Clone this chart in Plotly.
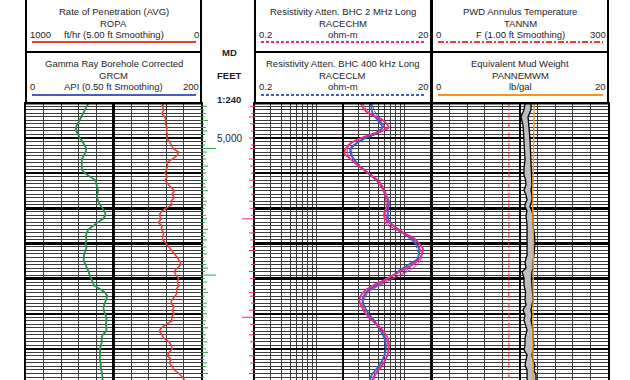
import plotly.graph_objects as go

W, H = 630, 380
FONT = "Liberation Sans, Arial, sans-serif"

# ---------------- data ----------------
DEPTH = list(range(4990, 5070))  # 1 ft samples (MD, feet)

GR_API = [71.6, 69.5, 67.5, 65.5, 63, 60.5, 58.5, 57, 57.5, 59,
          61.4, 64.5, 67, 69, 68, 65.5, 64, 63.6, 63.6, 64,
          67, 74, 79.5, 80.2, 81.8, 82.6, 81.5, 81.2, 82.5, 84.5,
          87.5, 89.8, 91, 88, 82, 76.5, 71.5, 69.3, 68.5, 69,
          68.2, 69.3, 67.6, 66.5, 66, 66, 68, 70, 71.5, 72.7,
          74.5, 75.5, 78, 85, 90.5, 93, 91.5, 90.4, 88.6, 88.8,
          90.5, 91.8, 92, 91.2, 92, 91.5, 87.5, 86.4, 86.6, 85.2,
          84.5, 84.8, 84.2, 84.2, 85.6, 85.2, 86, 86.8, 87.5, 87.5]

ROP_FTHR = [210, 222, 212, 224, 208, 199, 205, 193, 199, 190,
            196, 180, 168, 160, 128, 135, 165, 196, 190, 200,
            206, 192, 205, 190, 170, 153, 165, 153, 172, 165,
            200, 228, 238, 227, 244, 222, 228, 212, 220, 218,
            199, 182, 165, 148, 135, 122, 114, 136, 153, 142,
            128, 136, 125, 142, 136, 148, 165, 172, 153, 165,
            153, 170, 165, 199, 227, 239, 222, 212, 182, 170,
            165, 182, 193, 170, 182, 165, 153, 125, 108, 91]

RES_DEPTH = [4990.0, 4991.7, 4993, 4994.5, 4996.0, 4997.0, 4998.2, 4999.0, 5000.4, 5001.5,
             5003.0, 5004.5, 5006, 5007.5, 5009, 5010.5, 5012, 5014, 5016, 5018,
             5019.5, 5021, 5022, 5023.5, 5025, 5027, 5028.5, 5030, 5031.5, 5033,
             5034.5, 5036, 5037.5, 5039, 5040.5, 5042, 5043.5, 5045, 5046.5, 5048,
             5049.5, 5051, 5052.5, 5054, 5055.5, 5057, 5058.5, 5060, 5061.5, 5063,
             5064.5, 5066, 5067.5, 5069]
RACECHM = [3.17, 3.43, 3.9, 5.37, 6.3, 6.62, 5.09, 4.12, 2.93, 2.44,
           2.14, 2.09, 2.44, 2.85, 3.43, 4.12, 4.96, 5.65, 6.12, 6.46,
           6.3, 5.95, 5.81, 6.3, 7.55, 9.9, 12.8, 14.6, 16.2, 15.8,
           14.6, 12.5, 9.6, 7.55, 5.81, 4.34, 3.52, 3.17, 3.08, 3.26,
           3.52, 4.02, 4.58, 5.37, 5.95, 6.46, 6.62, 6.62, 6.46, 6.12,
           5.65, 5.09, 4.58, 4.34]
RACECLM = [4.12, 4.22, 4.34, 4.83, 5.37, 5.65, 4.96, 4.46, 3.35, 2.85,
           2.44, 2.44, 2.64, 2.93, 3.43, 4.02, 4.83, 5.65, 6.12, 6.62,
           6.62, 6.46, 6.46, 6.62, 7.55, 9.6, 12.0, 13.5, 14.6, 14.6,
           13.9, 11.2, 9.0, 7.55, 5.95, 4.70, 3.81, 3.43, 3.35, 3.52,
           3.81, 4.22, 4.70, 5.22, 5.65, 5.95, 6.12, 6.12, 5.95, 5.65,
           5.22, 4.70, 4.22, 4.02]

RES2_DEPTH = [4990, 4992, 4994, 4996, 4997.5, 4999, 5001, 5003, 5005, 5008,
              5012, 5016, 5020, 5024, 5027, 5030, 5032, 5034, 5036, 5038,
              5041, 5044, 5047, 5050, 5054, 5058, 5062, 5066, 5069]
RACECHM_2 = [3.35, 3.7, 4.6, 5.7, 6.0, 4.4, 2.6, 2.25, 2.3, 3.0,
             4.7, 5.9, 6.2, 6.0, 9.3, 13.6, 15.3, 15.6, 13.9, 10.8,
             6.0, 3.8, 3.3, 3.55, 5.1, 6.4, 6.3, 5.0, 4.4]
RACECLM_2 = [4.3, 4.5, 5.0, 5.6, 5.9, 4.7, 3.1, 2.55, 2.55, 3.2,
             4.9, 6.0, 6.5, 6.3, 9.3, 13.0, 14.0, 14.3, 12.5, 10.1,
             6.2, 3.9, 3.4, 3.7, 5.0, 6.0, 5.9, 4.9, 4.1]

EMW_DEPTH = [4990.3, 4992.0, 4994.0, 4995.2, 4996.3, 4998.6, 5000.6, 5003.4, 5006.3, 5008.5,
             5010.5, 5011.9, 5013.4, 5014.8, 5016.2, 5017.6, 5018.8, 5019.6, 5020.8, 5021.9,
             5024.8, 5027.6, 5029.9, 5031.9, 5033.3, 5035.3, 5037.0, 5038.1, 5039.8, 5041.8,
             5043.8, 5046.1, 5047.5, 5048.9, 5050.4, 5051.8, 5054.6, 5056.9, 5058.9, 5060.3,
             5061.7, 5063.2, 5064.6, 5066.0, 5067.4, 5068.9]
EMW_MIN = [10.57, 10.45, 10.11, 10.23, 10.34, 10.4, 10.45, 10.51, 10.57, 10.45,
           10.45, 10.63, 10.68, 10.45, 10.68, 10.8, 10.57, 10.57, 10.8, 10.68,
           10.8, 10.8, 10.8, 10.85, 10.8, 10.57, 10.68, 10.23, 10.45, 10.45,
           10.63, 10.57, 10.68, 10.34, 10.57, 10.45, 10.8, 10.57, 10.57, 10.45,
           10.8, 10.68, 10.57, 10.8, 10.8, 10.8]
EMW_MAX = [11.25, 11.25, 10.91, 10.97, 11.02, 11.08, 11.14, 11.2, 11.25, 11.3,
           11.36, 11.36, 11.36, 11.25, 11.36, 11.36, 11.25, 11.14, 11.36, 11.48,
           11.48, 11.65, 11.7, 11.65, 11.59, 11.48, 11.48, 11.36, 11.3, 11.36,
           11.42, 11.48, 11.36, 11.25, 11.36, 11.25, 11.48, 11.48, 11.59, 11.48,
           11.36, 11.48, 11.7, 11.59, 11.82, 11.82]

PANNEMWM_DEPTH = [4990, 5000, 5010, 5020, 5030, 5040, 5050, 5060, 5069]
PANNEMWM = [11.6, 11.55, 11.5, 11.45, 11.52, 11.48, 11.45, 11.47, 11.5]

TANNM_DEPTH = [4990, 5069]
TANNM = [131, 131]

GREEN_FLAG = [3, 5, 2, 4, 3, 6, 2, 4, 5, 3,
              2, 4, 3, 14, 5, 3, 4, 2, 6, 3,
              4, 2, 5, 3, 4, 6, 2, 3, 5, 4,
              3, 2, 4, 5, 3, 2, 6, 4, 3, 5,
              2, 4, 3, 5, 2, 3, 4, 6, 3, 14,
              3, 5, 2, 4, 6, 3, 2, 5, 4, 3,
              5, 2, 4, 3, 6, 2, 4, 3, 5, 2,
              4, 6, 3, 2, 5, 4, 3, 6, 2, 4]
PINK_FLAG = [0, 4, 0, 3, 5, 0, 4, 0, 3, 0,
             5, 0, 3, 4, 0, 0, 5, 0, 4, 0,
             3, 0, 5, 0, 4, 0, 3, 0, 5, 0,
             4, 0, 3, 12, 0, 3, 0, 5, 0, 4,
             0, 3, 5, 0, 4, 0, 3, 0, 5, 0,
             4, 0, 3, 0, 5, 4, 0, 3, 0, 5,
             0, 12, 0, 4, 0, 3, 5, 0, 4, 0,
             3, 0, 5, 0, 4, 0, 3, 5, 0, 4]

DEPTH_LABELS = [5000]
DEPTH_LABEL_TEXT = ["5,000"]
DEPTH_HEADER = ["MD", "FEET", "1:240"]

# grid divisions for the tracks
GR_GRID = [0, 20, 40, 60, 80, 100, 120, 140, 160, 180, 200]
EMW_GRID = [0, 2, 4, 6, 8, 10, 12, 14, 16, 18, 20]
RES_GRID = [0.3, 0.4, 0.5, 0.6, 0.7, 0.8, 0.9, 1, 3, 4, 5, 6, 7, 8, 9, 10]

# header texts: [title, mnemonic, unit, left scale, right scale]
HDR_T1 = [["Rate of Penetration (AVG)", "ROPA", "ft/hr (5.00 ft Smoothing)", "1000", "0"],
          ["Gamma Ray Borehole Corrected", "GRCM", "API (0.50 ft Smoothing)", "0", "200"]]
HDR_T2 = [["Resistivity Atten. BHC 2 MHz Long", "RACECHM", "ohm-m", "0.2", "20"],
          ["Resistivity Atten. BHC 400 kHz Long", "RACECLM", "ohm-m", "0.2", "20"]]
HDR_T3 = [["PWD Annulus Temperature", "TANNM", "F (1.00 ft Smoothing)", "0", "300"],
          ["Equivalent Mud Weight", "PANNEMWM", "lb/gal", "0", "20"]]

# ---------------- styling / layout ----------------
C_ROP = "#ef3b2c"
C_GR = "#23924a"
C_GR_HDR = "#4a5bbf"
C_PINK = "#f0287f"
C_BLUE = "#3d5ad0"
C_ORANGE = "#f7931e"
C_TEMP = "#f03a3a"
GRID_MINOR_CLR = "#3c3c3c"

T1 = (26, 201)
T2 = (255, 431)
T3 = (432, 608)
DC = (201, 255)
GRID_TOP = 103.5
D_TOP = 5000 - (138 - GRID_TOP) / 3.515
D_BOT = 5000 + (H - 138) / 3.515


def px(x):
    return x / W


def py(y):
    return 1 - y / H


fig = go.Figure()

# Track 1 (GR on x/y; ROP on its own non-overlaid axis pair x2/y5 sharing the domain)
fig.add_trace(go.Scatter(x=GR_API, y=DEPTH, xaxis="x", yaxis="y", mode="lines",
                         line=dict(color=C_GR, width=1.8), hoverinfo="skip"))
fig.add_trace(go.Scatter(x=ROP_FTHR, y=DEPTH, xaxis="x2", yaxis="y5", mode="lines",
                         line=dict(color=C_ROP, width=1.5), hoverinfo="skip"))

# Track 2
fig.add_trace(go.Scatter(x=RACECLM_2, y=RES2_DEPTH, xaxis="x3", yaxis="y2", mode="lines",
                         line=dict(color=C_BLUE, width=1, shape="spline", dash="3px,1px"), hoverinfo="skip"))
fig.add_trace(go.Scatter(x=RACECHM_2, y=RES2_DEPTH, xaxis="x3", yaxis="y2", mode="lines",
                         line=dict(color=C_PINK, width=1, shape="spline"), hoverinfo="skip"))
fig.add_trace(go.Scatter(x=RACECLM, y=RES_DEPTH, xaxis="x3", yaxis="y2", mode="lines",
                         line=dict(color=C_BLUE, width=1.8, shape="spline"), hoverinfo="skip"))
fig.add_trace(go.Scatter(x=RACECHM, y=RES_DEPTH, xaxis="x3", yaxis="y2", mode="lines",
                         line=dict(color=C_PINK, width=1.8, shape="spline"), hoverinfo="skip"))

# Track 3 (EMW on x4/y3; temperature on its own non-overlaid pair x5/y6)
fig.add_trace(go.Scatter(x=EMW_MIN, y=EMW_DEPTH, xaxis="x4", yaxis="y3", mode="lines",
                         line=dict(color="black", width=1.3), hoverinfo="skip"))
fig.add_trace(go.Scatter(x=EMW_MAX, y=EMW_DEPTH, xaxis="x4", yaxis="y3", mode="lines",
                         line=dict(color="black", width=1.3), fill="tonextx",
                         fillcolor="#bdbdbd", hoverinfo="skip"))
fig.add_trace(go.Scatter(x=PANNEMWM, y=PANNEMWM_DEPTH, xaxis="x4", yaxis="y3", mode="lines",
                         line=dict(color=C_ORANGE, width=1.4), hoverinfo="skip"))
fig.add_trace(go.Scatter(x=TANNM, y=TANNM_DEPTH, xaxis="x5", yaxis="y6", mode="lines",
                         line=dict(color=C_TEMP, width=1.2, dash="5px,2px,1px,2px"), hoverinfo="skip"))

# Depth column flags
COLW = DC[1] - DC[0]
gx, gy, kx, ky = [], [], [], []
for d, g, p in zip(DEPTH, GREEN_FLAG, PINK_FLAG):
    if g:
        gx += [0, g + 1, None]
        gy += [d, d, None]
    if p:
        kx += [COLW, COLW - p - 1, None]
        ky += [d, d, None]
fig.add_trace(go.Scatter(x=gx, y=gy, xaxis="x6", yaxis="y4", mode="lines",
                         line=dict(color="#2fa04a", width=1), hoverinfo="skip"))
fig.add_trace(go.Scatter(x=kx, y=ky, xaxis="x6", yaxis="y4", mode="lines",
                         line=dict(color="#f0287f", width=1), hoverinfo="skip"))

GRID_MAJOR = dict(showgrid=True, gridcolor="black", gridwidth=2.4)
BOX = dict(showline=True, linecolor="black", linewidth=2, mirror=True,
           showticklabels=False, ticks="", zeroline=False, fixedrange=True)
ydom = [0, py(GRID_TOP)]


def yax(anchor):
    return dict(domain=ydom, range=[D_BOT, D_TOP], anchor=anchor,
                tickmode="linear", tick0=5000, dtick=10, **GRID_MAJOR,
                minor=dict(tickmode="linear", tick0=5000, dtick=1, showgrid=True,
                           gridcolor=GRID_MINOR_CLR, gridwidth=1),
                **BOX)


def hidden_y(anchor):
    return dict(domain=ydom, range=[D_BOT, D_TOP], anchor=anchor, visible=False,
                showgrid=False, zeroline=False, fixedrange=True)


fig.update_layout(
    width=W, height=H, margin=dict(l=0, r=0, t=0, b=0), autosize=False,
    paper_bgcolor="white", plot_bgcolor="rgba(0,0,0,0)", showlegend=False,
    xaxis=dict(domain=[px(T1[0]), px(T1[1])], range=[0, 200], anchor="y",
               tickmode="linear", tick0=0, dtick=100, **GRID_MAJOR,
               minor=dict(tickmode="array", tickvals=GR_GRID, showgrid=True,
                          gridcolor=GRID_MINOR_CLR, gridwidth=1),
               **BOX),
    xaxis2=dict(domain=[px(T1[0]), px(T1[1])], anchor="y5", range=[1000, 0], visible=False,
                showgrid=False, zeroline=False, fixedrange=True),
    xaxis3=dict(domain=[px(T2[0]), px(T2[1])], type="log", range=[-0.69897, 1.30103], anchor="y2",
                tickmode="array", tickvals=[2], **GRID_MAJOR,
                minor=dict(tickmode="array", tickvals=RES_GRID,
                           showgrid=True, gridcolor=GRID_MINOR_CLR, gridwidth=1),
                **BOX),
    xaxis4=dict(domain=[px(T3[0]), px(T3[1])], range=[0, 20], anchor="y3",
                tickmode="linear", tick0=0, dtick=10, **GRID_MAJOR,
                minor=dict(tickmode="array", tickvals=EMW_GRID, showgrid=True,
                           gridcolor=GRID_MINOR_CLR, gridwidth=1),
                **BOX),
    xaxis5=dict(domain=[px(T3[0]), px(T3[1])], anchor="y6", range=[0, 300], visible=False,
                showgrid=False, zeroline=False, fixedrange=True),
    xaxis6=dict(domain=[px(DC[0]), px(DC[1])], range=[0, COLW], anchor="y4", visible=False,
                fixedrange=True),
    yaxis=yax("x"),
    yaxis2=yax("x3"),
    yaxis3=yax("x4"),
    yaxis4=hidden_y("x6"),
    yaxis5=hidden_y("x2"),
    yaxis6=hidden_y("x5"),
)

shapes = []
annots = []


def hline(x0, x1, y, color="black", width=2, dash="solid"):
    shapes.append(dict(type="line", xref="paper", yref="paper", x0=px(x0), x1=px(x1),
                       y0=py(y), y1=py(y), line=dict(color=color, width=width, dash=dash)))


def vline(x, y0, y1, color="black", width=2):
    shapes.append(dict(type="line", xref="paper", yref="paper", x0=px(x), x1=px(x),
                       y0=py(y0), y1=py(y1), line=dict(color=color, width=width)))


def text(x, y, s, xanchor="center", size=9.5, bold=False):
    annots.append(dict(xref="paper", yref="paper", x=px(x), y=py(y), text=("<b>%s</b>" % s) if bold else s,
                       showarrow=False, xanchor=xanchor, yanchor="middle",
                       font=dict(family=FONT, size=size, color="#1e1e1e")))


def header(track, rows, styles):
    l, r = track
    c = (l + r) / 2
    vline(l, 0, GRID_TOP)
    vline(r, 0, GRID_TOP)
    hline(l, r, 52)
    hline(l, r, GRID_TOP)
    for i, (row, st) in enumerate(zip(rows, styles)):
        off = i * 52
        text(c, 11.7 + off, row[0])
        text(c, 23.5 + off, row[1])
        text(c, 34.5 + off, row[2])
        text(l + 2, 34.5 + off, row[3], xanchor="left")
        text(r, 34.5 + off, row[4], xanchor="right")
        hline(l + 6, r - 5, 42 + off + (1 if i else 0), color=st[0], width=2, dash=st[1])


header(T1, HDR_T1, [(C_ROP, "solid"), (C_GR_HDR, "solid")])
header(T2, HDR_T2, [(C_PINK, "3px,2px"), (C_BLUE, "3px,2px")])
header(T3, HDR_T3, [(C_TEMP, "6px,2px,2px,2px"), (C_ORANGE, "solid")])

dc = (DC[0] + DC[1]) / 2 + 1
for s, yy in zip(DEPTH_HEADER, [52.5, 75.5, 99]):
    text(dc, yy, s, bold=True)

for d, s in zip(DEPTH_LABELS, DEPTH_LABEL_TEXT):
    annots.append(dict(xref="paper", yref="y", x=px(dc), y=d, text=s, showarrow=False,
                       xanchor="center", yanchor="middle",
                       font=dict(family=FONT, size=10, color="#1e1e1e")))

fig.update_layout(shapes=shapes, annotations=annots)
fig.write_html("out.html", config={"displayModeBar": False, "staticPlot": True},
               post_script="document.body.style.margin='0';document.body.style.padding='0';")
